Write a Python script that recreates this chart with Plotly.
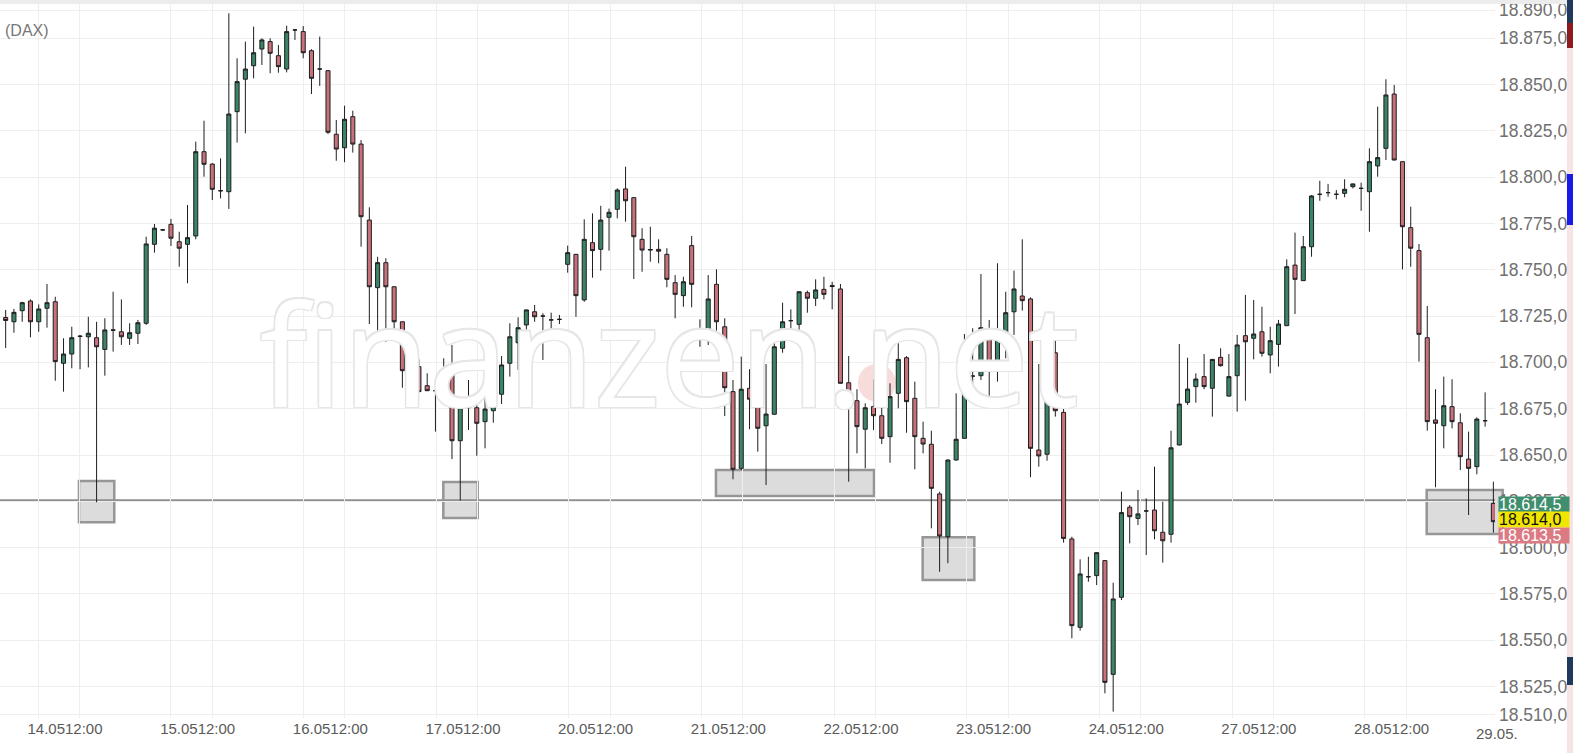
import plotly.graph_objects as go

# ---------------- data (hourly DAX candles, 14.05 - 29.05) ----------------
opens = [18724.2, 18721.9, 18727.9, 18733.1, 18721.9, 18729.2, 18732.7, 18699.5, 18704.5, 18714.2,
         18713.8, 18713.3, 18707.0, 18717.3, 18716.5, 18713.0, 18715.7, 18721.1, 18763.7, 18771.5,
         18774.5, 18765.1, 18763.7, 18768.2, 18813.7, 18807.0, 18792.6, 18792.1, 18835.3, 18852.8,
         18860.1, 18869.1, 18873.1, 18865.5, 18858.3, 18879.4, 18878.5, 18868.2, 18858.3, 18857.4,
         18823.1, 18815.8, 18832.6, 18817.8, 18776.8, 18740.3, 18753.8, 18740.8, 18721.9, 18696.8,
         18697.7, 18687.4, 18684.7, 18681.5, 18693.7, 18657.7, 18677.0, 18675.5, 18668.0, 18673.9,
         18682.8, 18699.5, 18710.6, 18720.2, 18727.3, 18725.0, 18722.9, 18723.2, 18752.9, 18758.3,
         18733.7, 18764.6, 18761.0, 18778.3, 18782.6, 18793.6, 18788.9, 18766.4, 18760.6, 18761.0,
         18758.3, 18743.0, 18736.0, 18763.0, 18714.2, 18715.1, 18742.1, 18719.2, 18684.2, 18642.8,
         18686.0, 18680.1, 18665.8, 18672.0, 18707.6, 18722.5, 18720.5, 18737.6, 18734.6, 18739.4,
         18740.9, 18739.6, 18689.0, 18679.3, 18663.9, 18676.1, 18671.2, 18659.9, 18683.3, 18702.5,
         18680.6, 18659.0, 18655.8, 18629.0, 18605.9, 18647.3, 18659.0, 18692.6, 18692.8, 18717.5,
         18700.9, 18715.7, 18727.3, 18735.8, 18734.2, 18652.7, 18650.4, 18705.2, 18673.0, 18604.7,
         18557.0, 18584.3, 18584.9, 18593.0, 18531.6, 18573.2, 18621.8, 18615.8, 18619.8, 18620.3,
         18608.3, 18607.2, 18655.4, 18678.4, 18686.9, 18692.3, 18686.0, 18702.7, 18681.8, 18692.8,
         18714.4, 18713.0, 18716.5, 18704.0, 18709.7, 18719.8, 18752.5, 18744.1, 18762.4, 18790.7,
         18791.6, 18790.7, 18791.2, 18794.8, 18793.9, 18792.1, 18806.0, 18815.5, 18844.8, 18808.3,
         18772.7, 18760.3, 18713.3, 18668.9, 18665.8, 18676.1, 18667.4, 18647.8, 18643.7, 18668.5,
         18623.9]
highs = [18728.3, 18728.8, 18732.7, 18734.0, 18731.3, 18742.3, 18735.4, 18713.0, 18719.2, 18714.8,
         18724.6, 18721.9, 18723.8, 18738.1, 18734.0, 18721.1, 18722.9, 18767.8, 18774.7, 18772.0,
         18777.4, 18770.5, 18784.9, 18819.1, 18830.4, 18807.5, 18810.1, 18888.4, 18864.1, 18873.1,
         18881.2, 18874.9, 18874.9, 18871.3, 18881.7, 18879.8, 18881.5, 18869.0, 18875.8, 18857.8,
         18830.8, 18838.5, 18835.8, 18820.0, 18783.7, 18757.0, 18756.2, 18741.0, 18722.0, 18699.5,
         18701.6, 18694.1, 18686.2, 18702.2, 18709.4, 18675.8, 18690.5, 18678.8, 18689.6, 18689.6,
         18703.4, 18721.1, 18724.3, 18728.5, 18731.0, 18726.5, 18726.8, 18725.6, 18763.0, 18758.5,
         18777.2, 18780.4, 18784.5, 18783.0, 18793.9, 18805.6, 18789.0, 18772.4, 18773.2, 18766.4,
         18761.6, 18747.1, 18746.2, 18768.2, 18723.2, 18747.1, 18750.2, 18723.8, 18690.5, 18703.1,
         18696.3, 18682.9, 18699.1, 18714.2, 18732.2, 18728.6, 18738.3, 18738.7, 18744.8, 18746.2,
         18743.5, 18742.3, 18703.4, 18685.5, 18677.9, 18690.9, 18683.6, 18688.7, 18716.5, 18703.4,
         18689.6, 18668.0, 18663.1, 18630.2, 18647.5, 18683.3, 18715.3, 18718.4, 18747.7, 18722.9,
         18753.5, 18738.1, 18749.5, 18766.4, 18735.1, 18699.1, 18715.1, 18714.8, 18677.5, 18605.9,
         18593.7, 18595.1, 18597.5, 18593.3, 18581.1, 18630.2, 18623.0, 18631.1, 18626.6, 18643.7,
         18624.8, 18663.1, 18709.9, 18702.5, 18694.1, 18704.5, 18701.8, 18707.6, 18704.5, 18714.8,
         18736.4, 18733.7, 18730.0, 18719.2, 18722.9, 18755.6, 18770.0, 18768.2, 18790.3, 18798.0,
         18796.3, 18793.0, 18798.8, 18796.5, 18797.0, 18815.5, 18838.0, 18852.8, 18849.7, 18808.5,
         18784.0, 18763.9, 18730.4, 18685.5, 18692.3, 18690.9, 18672.5, 18662.6, 18670.3, 18683.8,
         18635.6]
lows = [18707.7, 18716.0, 18721.9, 18713.5, 18716.5, 18718.7, 18690.1, 18684.2, 18696.8, 18696.3,
        18697.3, 18624.5, 18692.8, 18705.8, 18709.4, 18709.4, 18709.9, 18720.2, 18759.2, 18771.0,
        18762.8, 18751.6, 18742.7, 18766.4, 18800.2, 18787.6, 18788.5, 18782.8, 18818.6, 18823.6,
        18853.3, 18860.5, 18856.0, 18856.3, 18856.5, 18874.0, 18864.1, 18844.8, 18849.2, 18823.2,
        18808.8, 18808.0, 18813.2, 18762.4, 18720.7, 18715.3, 18711.1, 18717.5, 18686.3, 18677.4,
        18684.0, 18684.5, 18662.6, 18677.0, 18647.8, 18625.5, 18663.5, 18649.6, 18653.6, 18667.4,
        18677.5, 18692.3, 18695.9, 18715.1, 18721.9, 18701.3, 18715.7, 18720.7, 18748.4, 18724.6,
        18732.7, 18745.7, 18749.5, 18760.3, 18777.7, 18775.9, 18745.0, 18748.9, 18754.3, 18753.5,
        18740.5, 18723.8, 18730.0, 18729.7, 18708.4, 18709.4, 18715.7, 18671.0, 18636.9, 18641.9,
        18663.9, 18651.8, 18633.8, 18671.8, 18705.2, 18715.3, 18713.8, 18726.8, 18730.4, 18734.0,
        18728.6, 18688.5, 18635.6, 18650.9, 18642.8, 18663.5, 18655.9, 18645.8, 18675.2, 18662.0,
        18642.3, 18650.9, 18610.4, 18587.0, 18591.6, 18647.0, 18658.8, 18686.9, 18690.5, 18677.9,
        18689.6, 18702.2, 18714.8, 18727.9, 18638.0, 18643.7, 18646.9, 18670.7, 18602.7, 18551.1,
        18555.2, 18581.6, 18579.8, 18521.4, 18511.5, 18571.7, 18602.3, 18612.2, 18596.0, 18604.5,
        18591.9, 18602.7, 18655.2, 18677.0, 18678.2, 18685.5, 18670.7, 18697.7, 18681.5, 18673.4,
        18679.3, 18701.6, 18703.1, 18694.1, 18697.7, 18719.6, 18726.1, 18743.9, 18757.0, 18787.2,
        18789.4, 18788.0, 18789.1, 18793.9, 18781.8, 18770.5, 18800.2, 18809.2, 18809.0, 18750.2,
        18751.6, 18700.4, 18663.1, 18632.6, 18653.6, 18664.4, 18641.9, 18617.6, 18639.6, 18665.3,
        18608.1]
closes = [18722.6, 18727.0, 18732.2, 18721.9, 18728.8, 18732.2, 18700.4, 18704.5, 18713.3, 18714.0,
          18715.7, 18708.4, 18717.5, 18717.5, 18713.8, 18716.0, 18721.4, 18763.9, 18772.4, 18771.5,
          18767.0, 18761.6, 18767.3, 18813.7, 18806.9, 18793.4, 18792.6, 18834.0, 18851.5, 18858.3,
          18867.1, 18874.0, 18866.8, 18859.6, 18878.5, 18879.4, 18867.1, 18853.3, 18858.3, 18824.2,
          18815.1, 18831.2, 18817.8, 18778.6, 18740.8, 18753.8, 18740.8, 18721.9, 18695.5, 18696.8,
          18684.2, 18684.7, 18684.7, 18688.3, 18657.7, 18675.5, 18675.5, 18667.1, 18674.8, 18684.2,
          18698.6, 18713.8, 18718.7, 18728.3, 18724.6, 18725.0, 18722.9, 18723.2, 18759.2, 18736.0,
          18766.4, 18760.3, 18776.8, 18781.0, 18793.0, 18787.2, 18767.8, 18760.6, 18760.9, 18760.0,
          18744.8, 18736.7, 18743.5, 18742.1, 18714.2, 18734.2, 18721.9, 18686.3, 18642.3, 18685.5,
          18680.1, 18664.4, 18672.1, 18708.4, 18721.9, 18722.5, 18738.1, 18734.6, 18739.1, 18736.7,
          18741.4, 18688.7, 18679.3, 18665.3, 18675.5, 18671.2, 18659.0, 18681.5, 18701.6, 18678.8,
          18659.9, 18655.9, 18632.0, 18606.3, 18647.3, 18658.5, 18695.5, 18692.6, 18718.7, 18700.0,
          18714.8, 18726.8, 18739.6, 18733.3, 18653.6, 18649.5, 18705.8, 18673.9, 18605.0, 18557.9,
          18585.8, 18584.3, 18597.3, 18527.3, 18572.3, 18618.9, 18616.7, 18618.2, 18619.8, 18609.1,
          18603.7, 18653.9, 18677.5, 18685.6, 18691.0, 18686.9, 18701.6, 18698.2, 18692.3, 18709.4,
          18711.1, 18715.3, 18704.9, 18711.7, 18720.7, 18751.6, 18744.8, 18762.4, 18789.8, 18790.7,
          18791.6, 18790.7, 18793.4, 18796.3, 18793.9, 18808.3, 18810.5, 18844.3, 18809.2, 18773.2,
          18761.6, 18715.1, 18668.0, 18667.1, 18676.6, 18668.0, 18649.1, 18642.8, 18669.4, 18668.5,
          18614.0]

day_labels = ["14.05", "15.05", "16.05", "17.05", "20.05", "21.05",
              "22.05", "23.05", "24.05", "27.05", "28.05"]
next_day_label = "29.05."
y_tick_values = [18510] + list(range(18525, 18876, 25)) + [18890]
support_level = 18625.5
ask_price, last_price, bid_price = 18614.5, 18614.0, 18613.5

# ---------------- figure ----------------
idx = list(range(len(opens)))
W, H = 1573, 753
ML, MR, MT, MB = 0, 78, 0, 35
PW, PH = W - ML - MR, H - MT - MB
x_range = [-0.686, 180.197]
y_range = [18508.06, 18895.56]


def px_x(px):
    return px / PW


def px_y(py):
    return 1 - py / PH


def fmt_de(v):
    s = f"{v:,.1f}"
    return s.replace(",", "X").replace(".", ",").replace("X", ".")


fig = go.Figure()

# watermark (behind candles)
fig.add_trace(go.Scatter(
    x=[80.3], y=[18695.0], mode="text", text=["finanzen.net"],
    textposition="middle center", hoverinfo="skip",
    textfont=dict(family="Open Sans, Noto Sans, sans-serif", size=141, color="#ffffff",
                  shadow="-1.5px -1.5px 0 #e6e6e6, 1.5px -1.5px 0 #e6e6e6, -1.5px 1.5px 0 #e6e6e6, 1.5px 1.5px 0 #e6e6e6"),
    showlegend=False,
))

fig.add_trace(go.Candlestick(
    x=idx, open=opens, high=highs, low=lows, close=closes,
    increasing=dict(fillcolor="#3b8566", line=dict(color="#1e1e1e", width=1)),
    decreasing=dict(fillcolor="#c9717b", line=dict(color="#1e1e1e", width=1)),
    whiskerwidth=0, showlegend=False, hoverinfo="skip",
))

tick_pos = [7.18 + 16.05 * k for k in range(len(day_labels))]
tick_text = [d + "12:00" for d in day_labels]
grid_pos = [p for k in range(12) for p in (3.95 + 16.05 * k, 8.95 + 16.05 * k) if p < x_range[1]]

shapes = []
# pink logo dot
shapes.append(dict(type="circle", xref="x", yref="y", x0=103.1, x1=107.7, y0=18678.8, y1=18699.1,
                   fillcolor="#f8dcdc", line=dict(width=0), layer="below"))
# user drawn boxes
box_style = dict(fillcolor="#dcdcdc", line=dict(color="#969696", width=2.5), layer="below")
for (x0, x1, y0, y1) in [(8.87, 13.14, 18613.7, 18636.0),
                         (52.95, 57.11, 18616.0, 18635.4),
                         (85.94, 105.06, 18627.9, 18641.9),
                         (110.95, 117.2, 18582.5, 18605.6)]:
    shapes.append(dict(type="rect", xref="x", yref="y", x0=x0, x1=x1, y0=y0, y1=y1, **box_style))
shapes.append(dict(type="rect", xref="paper", yref="paper", x0=px_x(1426.7), x1=px_x(1502.7),
                   y0=px_y(534), y1=px_y(490), **box_style))
# support line
shapes.append(dict(type="line", xref="x", yref="y", x0=x_range[0], x1=x_range[1],
                   y0=support_level, y1=support_level, line=dict(color="#8f8f8f", width=2.5), layer="below"))
# top band
shapes.append(dict(type="rect", xref="paper", yref="paper", x0=0, x1=px_x(1567), y0=px_y(4), y1=1,
                   fillcolor="#ececec", line=dict(width=0), layer="above"))
# right strip
strip = [(0, 753, "#f6e3e3"), (0, 23, "#1f3a5a"), (23, 48, "#8e1b1b"), (174, 225, "#1a1ae6"), (657, 685, "#1f3a5a")]
for (a, b, c) in strip:
    shapes.append(dict(type="rect", xref="paper", yref="paper", x0=px_x(1567), x1=px_x(1573),
                       y0=px_y(b), y1=px_y(a), fillcolor=c, line=dict(width=0), layer="above"))

annotations = [
    dict(text="(DAX)", xref="paper", yref="paper", x=px_x(3), y=px_y(30), xanchor="left", yanchor="middle",
         showarrow=False, font=dict(family="Liberation Sans, Arial", size=16, color="#777777")),
    dict(text=next_day_label, xref="paper", yref="paper", x=px_x(1497), y=0, xanchor="center", yanchor="top",
         yshift=-5, showarrow=False, font=dict(family="Liberation Sans, Arial", size=15, color="#5a5a5a")),
]
for (val, py, bg, fc) in [(ask_price, 504.5, "#3f8e6d", "#ffffff"),
                          (last_price, 519.5, "#f1e600", "#111111"),
                          (bid_price, 535.0, "#dc7a84", "#ffffff")]:
    annotations.append(dict(text=fmt_de(val), xref="paper", yref="paper", x=px_x(1498), y=px_y(py),
                            xanchor="left", yanchor="middle", showarrow=False, align="left",
                            width=70, height=15, bgcolor=bg, borderpad=0,
                            font=dict(family="Liberation Sans, Arial", size=16, color=fc)))

fig.update_layout(
    width=W, height=H, margin=dict(l=ML, r=MR, t=MT, b=MB, pad=0, autoexpand=False),
    paper_bgcolor="white", plot_bgcolor="rgba(0,0,0,0)",
    showlegend=False, shapes=shapes, annotations=annotations,
    xaxis=dict(range=x_range, rangeslider=dict(visible=False), showgrid=False, zeroline=False,
               automargin=False,
               tickmode="array", tickvals=tick_pos, ticktext=tick_text, ticks="", showline=False,
               tickfont=dict(family="Liberation Sans, Arial", size=15, color="#5a5a5a")),
    yaxis=dict(range=y_range, side="right", showgrid=True, gridcolor="#eeeeee", gridwidth=1,
               automargin=False, ticklabelstandoff=3,
               zeroline=False, tickmode="array", tickvals=y_tick_values,
               ticktext=[fmt_de(v) for v in y_tick_values], ticks="", showline=False,
               tickfont=dict(family="Liberation Sans, Arial", size=17.5, color="#707070")),
)
fig.update_xaxes(minor=dict(tickmode="array", tickvals=grid_pos, showgrid=True, gridcolor="#eeeeee",
                            gridwidth=1, ticks=""))

fig.write_html("out.html", config={"displayModeBar": False},
               post_script="document.body.style.margin='0';document.body.style.padding='0';")
